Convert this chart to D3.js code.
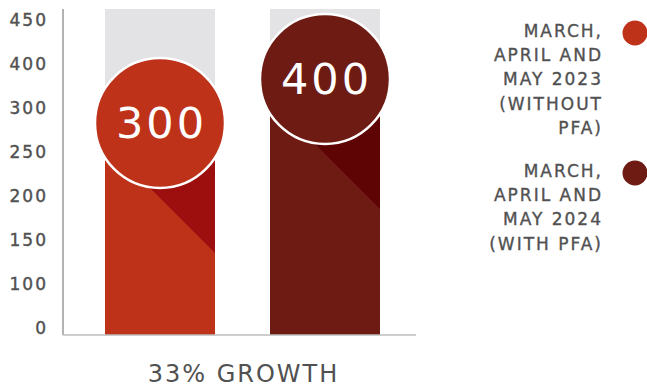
<!DOCTYPE html>
<html>
<head>
<meta charset="utf-8">
<script src="https://cdn.jsdelivr.net/npm/d3@7"></script>
<style>
  html, body { margin: 0; padding: 0; background: #fff; }
  svg { display: block; font-family: "DejaVu Sans", sans-serif; }
</style>
</head>
<body>
<svg id="chart" width="647" height="387"></svg>
<script>
// Periods compared
const categories = ["2023", "2024"];
// Totals for each period
const values = [300, 400];
// Axis labels shown on the left
const tickValues = [0, 100, 150, 200, 250, 300, 400, 450];
// Legend text, one line per entry
const legendLines = [
  ["MARCH,", "APRIL AND", "MAY 2023", "(WITHOUT", "PFA)"],
  ["MARCH,", "APRIL AND", "MAY 2024", "(WITH PFA)"]
];
const caption = "33% GROWTH";

const barColors = ["#BE321A", "#6E1B13"];
const shadowColors = ["#9D0F0F", "#5E0404"];
const trackColor = "#E3E3E5";
const textColor = "#515151";

const svg = d3.select("#chart");

const plotTop = 9, baseY = 335, axisX = 63, axisRight = 416;

const x = d3.scaleBand()
  .domain(categories)
  .range([50, 435])
  .paddingInner(1 / 3)
  .paddingOuter(1 / 3);

// Labels sit at equal intervals, so the scale is piecewise between them
const y = d3.scaleLinear()
  .domain(tickValues)
  .range(tickValues.map((d, i) => baseY - i * 44));

const R = 65;

const defs = svg.append("defs");
categories.forEach((c, i) => {
  defs.append("clipPath").attr("id", "clip" + i)
    .append("rect")
    .attr("x", x(c)).attr("y", plotTop)
    .attr("width", x.bandwidth()).attr("height", baseY - plotTop);
});

// background tracks
svg.append("g").selectAll("rect").data(categories).join("rect")
  .attr("x", d => x(d)).attr("y", plotTop)
  .attr("width", x.bandwidth()).attr("height", baseY - plotTop)
  .attr("fill", trackColor);

// bars
const bars = svg.append("g").selectAll("g").data(values).join("g")
  .attr("clip-path", (d, i) => `url(#clip${i})`);

bars.append("rect")
  .attr("x", (d, i) => x(categories[i]))
  .attr("y", d => y(d))
  .attr("width", x.bandwidth())
  .attr("height", d => baseY - y(d))
  .attr("fill", (d, i) => barColors[i]);

// long diagonal shadow cast by the badge
const k = 75;
bars.append("path")
  .attr("fill", (d, i) => shadowColors[i])
  .attr("d", (d, i) => {
    const cx = x(categories[i]) + x.bandwidth() / 2;
    const cy = y(d) + 8;
    const xr = x(categories[i]) + x.bandwidth();
    return `M${cx - k},${cy}L${xr},${cy}L${xr},${cy + (xr - cx) + k}Z`;
  });

// axes
svg.append("line")
  .attr("x1", axisX).attr("x2", axisX)
  .attr("y1", plotTop).attr("y2", baseY)
  .attr("stroke", "#9a9a9a").attr("stroke-width", 1.5);
svg.append("line")
  .attr("x1", axisX).attr("x2", axisRight)
  .attr("y1", baseY).attr("y2", baseY)
  .attr("stroke", "#bdbdbd").attr("stroke-width", 1.5);

const yAxis = svg.append("g")
  .attr("transform", `translate(${axisX},0)`)
  .call(d3.axisLeft(y).tickValues(tickValues).tickSize(0).tickPadding(15)
    .tickFormat(d3.format("d")));
yAxis.select(".domain").remove();
yAxis.selectAll("text")
  .attr("dy", "-2")
  .attr("font-size", 17)
  .attr("letter-spacing", 2)
  .attr("font-family", "DejaVu Sans, sans-serif")
  .attr("fill", textColor)
  .attr("stroke", textColor)
  .attr("stroke-width", 0.4);

// value badges
const badges = svg.append("g").selectAll("g").data(values).join("g")
  .attr("transform", (d, i) => `translate(${x(categories[i]) + x.bandwidth() / 2},${y(d) + 8})`);
badges.append("circle")
  .attr("r", R)
  .attr("fill", (d, i) => barColors[i])
  .attr("stroke", "#fff").attr("stroke-width", 2.5);
badges.append("text")
  .attr("text-anchor", "middle")
  .attr("dx", 1.5)
  .attr("dy", "0.36em")
  .attr("font-size", 43)
  .attr("letter-spacing", 3)
  .attr("fill", "#fff")
  .text(d => d);

// legend
const legend = svg.append("g").selectAll("g").data(legendLines).join("g")
  .attr("transform", (d, i) => `translate(0,${i === 0 ? 37 : 177})`);
legend.append("circle")
  .attr("cx", 635).attr("cy", -4).attr("r", 12.5)
  .attr("fill", (d, i) => barColors[i]);
legend.append("text")
  .attr("text-anchor", "end")
  .attr("font-size", 17)
  .attr("letter-spacing", 2)
  .attr("fill", textColor)
  .attr("stroke", textColor)
  .attr("stroke-width", 0.35)
  .selectAll("tspan").data(d => d).join("tspan")
  .attr("x", 603)
  .attr("y", (d, j) => j * 24.2)
  .text(d => d);

// caption
svg.append("text")
  .attr("x", (x(categories[0]) + x(categories[1]) + x.bandwidth()) / 2 + 1)
  .attr("y", 382)
  .attr("text-anchor", "middle")
  .attr("font-size", 24)
  .attr("letter-spacing", 2)
  .attr("fill", textColor)
  .text(caption);
</script>
</body>
</html>
